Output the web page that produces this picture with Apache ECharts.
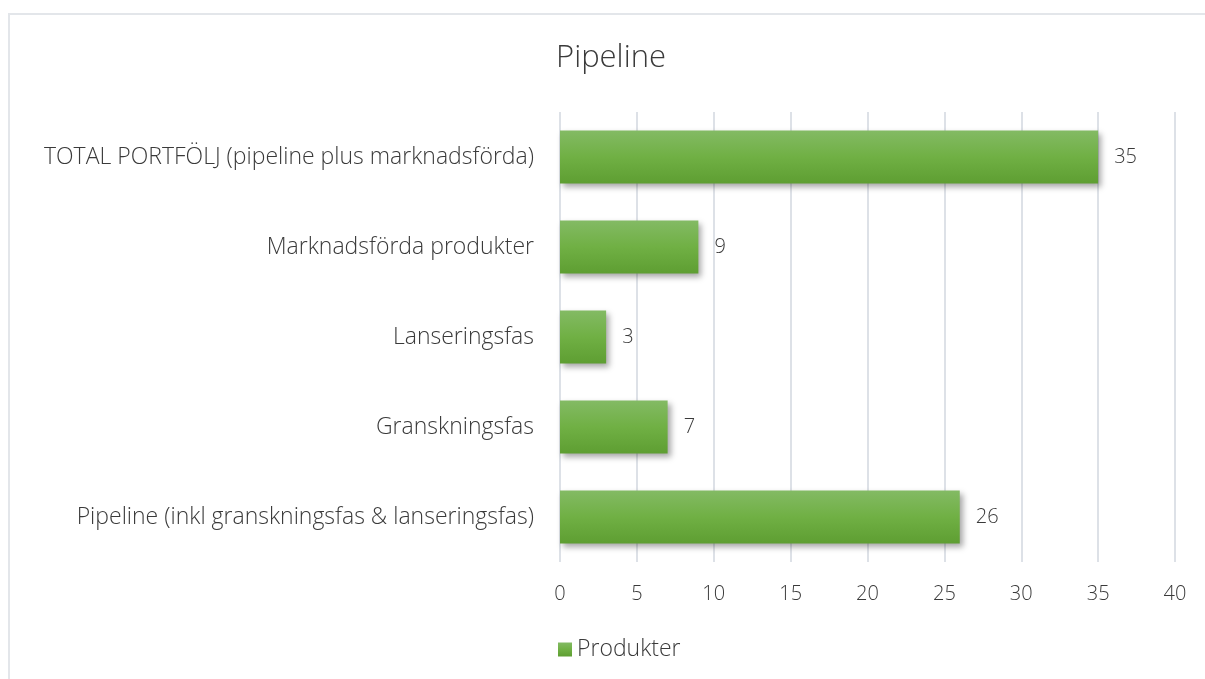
<!DOCTYPE html>
<html>
<head>
<meta charset="utf-8">
<script src="https://cdn.jsdelivr.net/npm/echarts@6/dist/echarts.min.js"></script>
<style>
  html, body { margin: 0; padding: 0; background: #fff; }
  #frame {
    position: absolute; left: 8px; top: 13px; width: 1220px; height: 700px;
    border-top: 2px solid #e3e6ea; border-left: 2px solid #e3e6ea;
  }
  #chart { position: absolute; left: 0; top: 0; width: 1205px; height: 679px; }
</style>
</head>
<body>
<div id="frame"></div>
<div id="chart"></div>
<script>
const categories = [
  'Pipeline (inkl granskningsfas & lanseringsfas)',
  'Granskningsfas',
  'Lanseringsfas',
  'Marknadsförda produkter',
  'TOTAL PORTFÖLJ (pipeline plus marknadsförda)'
]
const produkter = [26, 7, 3, 9, 35]
const xTicks = [0, 5, 10, 15, 20, 25, 30, 35, 40]

const font = '"Open Sans", sans-serif'
const ink = '#3a3a3a'
const chart = echarts.init(document.getElementById('chart'))
chart.setOption({
  animation: false,
  title: {
    text: 'Pipeline',
    left: 551,
    top: 38,
    textStyle: { fontFamily: font, fontSize: 31, fontWeight: 300, color: ink }
  },
  legend: {
    data: ['Produkter'],
    left: 553,
    top: 633,
    icon: 'rect',
    itemWidth: 14,
    itemHeight: 14,
    itemGap: 7,
    textStyle: { fontFamily: font, fontSize: 23, fontWeight: 300, color: ink }
  },
  grid: { left: 560, right: 30, top: 112, bottom: 117 },
  xAxis: {
    type: 'value',
    min: xTicks[0],
    max: xTicks[xTicks.length - 1],
    interval: 5,
    axisLine: { show: false },
    axisTick: { show: false },
    axisLabel: { fontFamily: font, fontSize: 20, fontWeight: 300, color: ink, margin: 22 },
    splitLine: { lineStyle: { color: '#dde1e7', width: 2 } }
  },
  yAxis: {
    type: 'category',
    data: categories,
    axisLine: { show: false },
    axisTick: { show: false },
    axisLabel: { fontFamily: font, fontSize: 23, fontWeight: 300, color: ink, margin: 26 }
  },
  series: [{
    name: 'Produkter',
    type: 'bar',
    data: produkter,
    barWidth: 53,
    itemStyle: {
      color: new echarts.graphic.LinearGradient(0, 0, 0, 1, [
        { offset: 0, color: '#83ba64' },
        { offset: 0.5, color: '#70b044' },
        { offset: 1, color: '#5e9e32' }
      ]),
      shadowColor: 'rgba(0,0,0,0.35)',
      shadowBlur: 6,
      shadowOffsetX: 3,
      shadowOffsetY: 3
    },
    label: {
      show: true,
      position: 'right',
      distance: 16,
      fontFamily: font,
      fontSize: 20,
      fontWeight: 300,
      color: ink
    }
  }]
})
</script>
</body>
</html>
